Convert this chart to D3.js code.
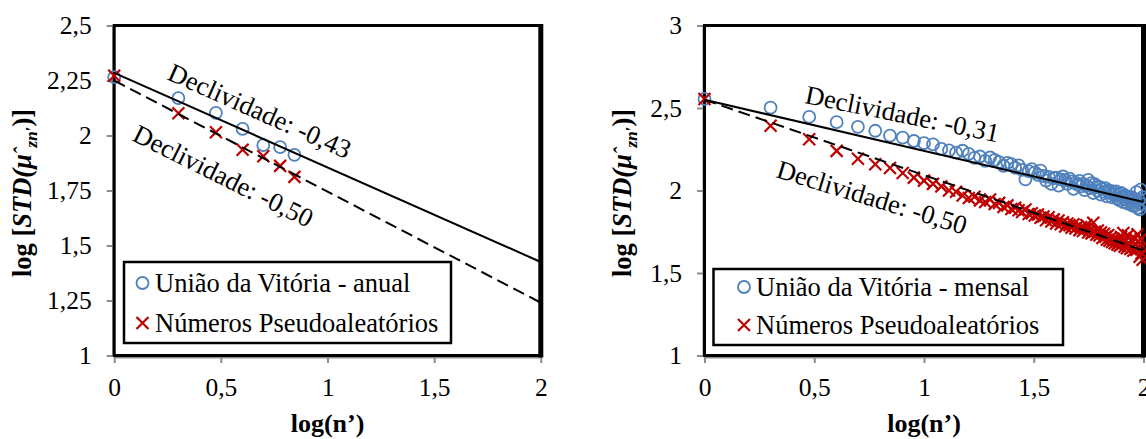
<!DOCTYPE html>
<html><head><meta charset="utf-8">
<script src="https://cdn.jsdelivr.net/npm/d3@7"></script>
<style>
body{margin:0;background:#fff}
svg{display:block}
text{font-family:"Liberation Serif","Times New Roman",serif;fill:#000}
</style>
</head><body>
<svg id="c" width="1146" height="439"></svg>
<script>
// ---------- DATA ----------
const xTicks = [0, 0.5, 1, 1.5, 2];
const yTicksAnnual = [1, 1.25, 1.5, 1.75, 2, 2.25, 2.5];
const yTicksMonthly = [1, 1.5, 2, 2.5, 3];

const xAnnual = [0, 0.301, 0.477, 0.602, 0.699, 0.778, 0.845];
const uniaoAnnual = [2.265, 2.170, 2.103, 2.030, 1.956, 1.947, 1.912];
const pseudoAnnual = [2.272, 2.101, 2.015, 1.935, 1.906, 1.862, 1.812];

const xMonthly = [0,0.301,0.477,0.602,0.699,0.778,0.845,0.903,0.954,1,1.041,1.079,1.114,1.146,1.176,1.204,1.23,1.255,1.279,1.301,1.322,1.342,1.362,1.38,1.398,1.415,1.431,1.447,1.462,1.477,1.491,1.505,1.519,1.531,1.544,1.556,1.568,1.58,1.591,1.602,1.613,1.623,1.633,1.643,1.653,1.663,1.672,1.681,1.69,1.699,1.708,1.716,1.724,1.732,1.74,1.748,1.756,1.763,1.771,1.778,1.785,1.792,1.799,1.806,1.813,1.82,1.826,1.833,1.839,1.845,1.851,1.857,1.863,1.869,1.875,1.881,1.886,1.892,1.898,1.903,1.908,1.914,1.919,1.924,1.929,1.934,1.94,1.944,1.949,1.954,1.959,1.964,1.968,1.973,1.978,1.982,1.987,1.991,1.996];
const uniaoMonthly = [2.555,2.502,2.446,2.414,2.386,2.362,2.333,2.320,2.300,2.287,2.279,2.252,2.243,2.230,2.241,2.222,2.198,2.206,2.180,2.200,2.185,2.172,2.150,2.168,2.160,2.138,2.152,2.125,2.068,2.118,2.130,2.110,2.095,2.120,2.088,2.060,2.082,2.040,2.075,2.078,2.030,2.068,2.085,2.062,2.040,2.072,2.055,2.010,2.048,2.036,2.058,2.025,2.040,2.002,2.030,2.065,2.015,2.045,1.985,2.038,2.020,1.998,2.022,1.975,2.010,1.992,2.015,1.965,2.000,1.985,1.998,1.958,1.990,1.975,1.995,1.950,1.978,1.940,1.985,1.962,1.930,1.972,1.945,1.965,1.920,1.955,1.935,1.960,1.910,1.950,1.905,1.930,1.990,1.895,1.945,1.885,2.005,1.918,1.960];
const pseudoMonthly = [2.555,2.392,2.311,2.240,2.193,2.159,2.136,2.106,2.078,2.060,2.040,2.025,2.000,1.992,1.970,1.955,1.962,1.940,1.930,1.945,1.918,1.925,1.900,1.910,1.888,1.895,1.880,1.870,1.885,1.858,1.862,1.848,1.855,1.835,1.842,1.820,1.838,1.812,1.825,1.800,1.818,1.795,1.808,1.782,1.800,1.790,1.775,1.795,1.770,1.782,1.760,1.778,1.755,1.768,1.790,1.745,1.762,1.740,1.805,1.750,1.732,1.758,1.728,1.745,1.712,1.738,1.720,1.702,1.730,1.695,1.715,1.688,1.708,1.680,1.700,1.672,1.690,1.665,1.718,1.675,1.742,1.660,1.695,1.650,1.728,1.668,1.645,1.700,1.655,1.635,1.710,1.675,1.640,1.735,1.690,1.598,1.705,1.620,1.580];

// trend lines: [intercept, slope]
const trendUniaoAnnual = [2.285, -0.43];
const trendPseudoAnnual = [2.25, -0.505];
const trendUniaoMonthly = [2.55, -0.31];
const trendPseudoMonthly = [2.55, -0.457];

const slopeLabelsAnnual = ["Declividade: -0,43", "Declividade: -0,50"];
const slopeLabelsMonthly = ["Declividade: -0,31", "Declividade: -0,50"];
const legendAnnual = ["União da Vitória - anual", "Números Pseudoaleatórios"];
const legendMonthly = ["União da Vitória - mensal", "Números Pseudoaleatórios"];

// ---------- DRAW ----------
const svg = d3.select("#c");
const BLUE = "#4F81BD", RED = "#C00000", GRAY = "#8c8c8c";
const fmt = d => String(d).replace(".", ",");

function panel(cfg) {
  const g = svg.append("g");
  const x = d3.scaleLinear().domain([0, 2]).range([cfg.x0, cfg.x1]);
  const y = d3.scaleLinear().domain(cfg.yDomain).range([355.5, 25.5]);

  const ya = g.append("g").attr("transform", `translate(${cfg.x0 - 1.5},0)`)
    .call(d3.axisLeft(y).tickValues(cfg.yTicks).tickSize(6).tickSizeOuter(0).tickPadding(15).tickFormat(fmt));
  const xa = g.append("g").attr("transform", `translate(0,${355.5 + 1.5})`)
    .call(d3.axisBottom(x).tickValues(xTicks).tickSize(6).tickSizeOuter(0).tickPadding(15).tickFormat(fmt));
  [ya, xa].forEach(a => {
    a.select(".domain").attr("stroke", GRAY).attr("stroke-width", 2);
    a.selectAll(".tick line").attr("stroke", GRAY).attr("stroke-width", 2);
    a.selectAll(".tick text").attr("font-size", 25.5).attr("fill", "#000")
      .style("font-family", '"Liberation Serif","Times New Roman",serif');
  });

  g.append("rect").attr("x", cfg.x0).attr("y", 25.5)
    .attr("width", cfg.x1 - cfg.x0).attr("height", 330)
    .attr("fill", "none").attr("stroke", "#000").attr("stroke-width", 3);
  g.append("line").attr("x1", cfg.x1).attr("x2", cfg.x1).attr("y1", 24).attr("y2", 357.5)
    .attr("stroke", "#000").attr("stroke-width", 5);

  const clip = "clip" + cfg.id;
  g.append("clipPath").attr("id", clip).append("rect")
    .attr("x", cfg.x0 - 8).attr("y", 25.5).attr("width", cfg.x1 - cfg.x0 + 12).attr("height", 330);
  const tl = (t, dash) => g.append("line")
    .attr("x1", x(0)).attr("y1", y(t[0]))
    .attr("x2", x(2)).attr("y2", y(t[0] + t[1] * 2))
    .attr("stroke", "#000").attr("stroke-width", 2)
    .attr("stroke-dasharray", dash ? "12,6" : null);

  const pts = g.append("g").attr("clip-path", `url(#${clip})`);
  const s = 6;
  cfg.xs.forEach((xv, i) => {
    pts.append("circle").attr("cx", x(xv)).attr("cy", y(cfg.uniao[i])).attr("r", 6)
      .attr("fill", "none").attr("stroke", BLUE).attr("stroke-width", 1.8);
  });
  cfg.xs.forEach((xv, i) => {
    const cx = x(xv), cy = y(cfg.pseudo[i]);
    pts.append("path").attr("d", `M${cx - s},${cy - s}L${cx + s},${cy + s}M${cx - s},${cy + s}L${cx + s},${cy - s}`)
      .attr("stroke", RED).attr("stroke-width", 2.2).attr("fill", "none");
  });
  tl(cfg.trendU, false);
  tl(cfg.trendP, true);

  cfg.labels.forEach((txt, i) => {
    const a = cfg.labelPos[i];
    g.append("text").attr("transform", `translate(${a[0]},${a[1]}) rotate(${a[2]})`)
      .attr("font-size", 26.5).text(txt);
  });

  const L = cfg.legend;
  g.append("rect").attr("x", L.x).attr("y", L.y).attr("width", L.w).attr("height", L.h)
    .attr("fill", "#fff").attr("stroke", "#000").attr("stroke-width", 2.5);
  g.append("circle").attr("cx", L.mx).attr("cy", L.r1).attr("r", 6)
    .attr("fill", "none").attr("stroke", BLUE).attr("stroke-width", 1.8);
  g.append("path").attr("d", `M${L.mx - s},${L.r2 - s}L${L.mx + s},${L.r2 + s}M${L.mx - s},${L.r2 + s}L${L.mx + s},${L.r2 - s}`)
    .attr("stroke", RED).attr("stroke-width", 2.2);
  g.append("text").attr("x", L.tx).attr("y", L.r1 + 9).attr("font-size", 26.5).text(cfg.legendText[0]);
  g.append("text").attr("x", L.tx).attr("y", L.r2 + 9).attr("font-size", 26.5).text(cfg.legendText[1]);

  g.append("text").attr("x", (cfg.x0 + cfg.x1) / 2).attr("y", 432).attr("text-anchor", "middle")
    .attr("font-size", 26).attr("font-weight", "bold").text("log(n’)");
  const yt = g.append("text").attr("transform", `translate(${cfg.titleX},193) rotate(-90)`)
    .attr("text-anchor", "middle").attr("font-size", 26.5).attr("font-weight", "bold");
  yt.append("tspan").text("log [");
  yt.append("tspan").attr("font-style", "italic").text("STD(μ");
  yt.append("tspan").attr("font-style", "italic").attr("dy", -2).attr("font-size", 20).text("ˆ");
  yt.append("tspan").attr("font-style", "italic").attr("dy", 8).attr("font-size", 17).text("zn′");
  yt.append("tspan").attr("dy", -6).text(")]");
}

panel({
  id: "a", x0: 114.2, x1: 540.8, yDomain: [1, 2.5], yTicks: yTicksAnnual,
  xs: xAnnual, uniao: uniaoAnnual, pseudo: pseudoAnnual,
  trendU: trendUniaoAnnual, trendP: trendPseudoAnnual,
  labels: slopeLabelsAnnual, labelPos: [[166, 79, 24], [131, 140, 26.5]],
  legend: { x: 124, y: 262, w: 327, h: 81, mx: 142.5, r1: 283, r2: 323, tx: 155 },
  legendText: legendAnnual, titleX: 31
});
panel({
  id: "b", x0: 704.5, x1: 1143.5, yDomain: [1, 3], yTicks: yTicksMonthly,
  xs: xMonthly, uniao: uniaoMonthly, pseudo: pseudoMonthly,
  trendU: trendUniaoMonthly, trendP: trendPseudoMonthly,
  labels: slopeLabelsMonthly, labelPos: [[804, 103, 11.5], [775, 177, 17]],
  legend: { x: 713.5, y: 269, w: 349.5, h: 76, mx: 744, r1: 287, r2: 325, tx: 756 },
  legendText: legendMonthly, titleX: 631
});
</script>
</body></html>
